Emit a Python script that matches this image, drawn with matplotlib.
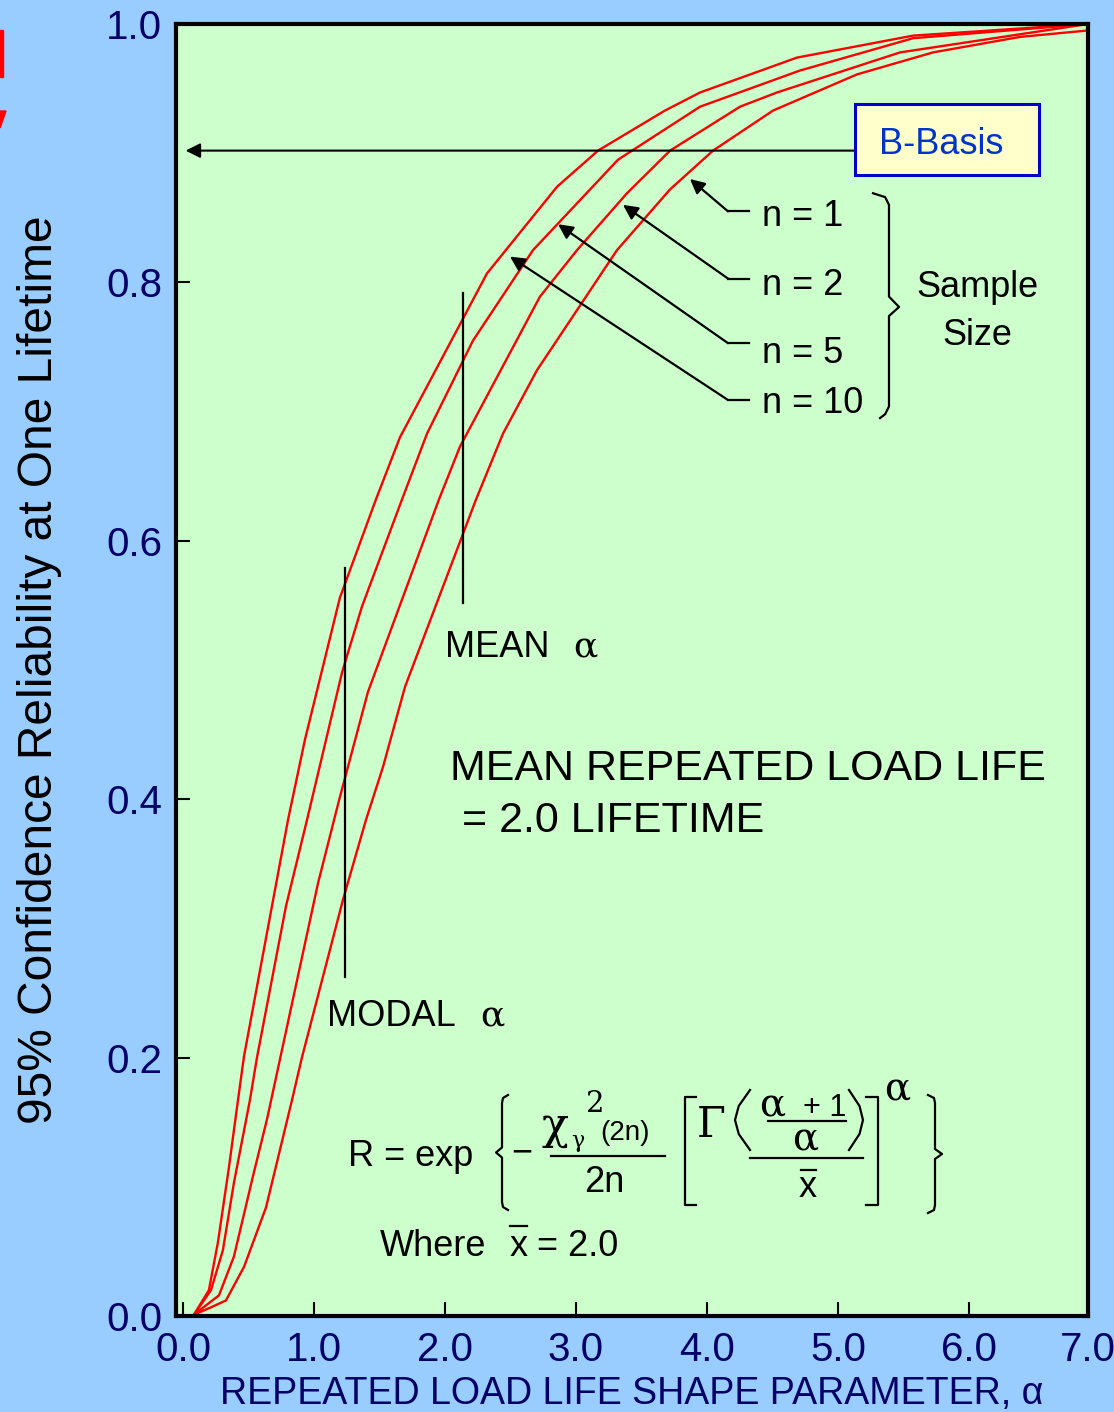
import matplotlib
matplotlib.use("Agg")
import matplotlib.pyplot as plt
from matplotlib.transforms import Affine2D
from matplotlib.patches import Rectangle, Polygon

plt.rcParams['font.family'] = ['Liberation Sans', 'DejaVu Sans']

# shape parameter alpha vs 95% confidence reliability
alpha_n10 = [0.084, 0.198, 0.267, 0.351, 0.420, 0.466, 0.802, 0.931, 1.198, 1.473,
             1.656, 2.321, 2.855, 3.168, 3.679, 3.947, 4.687, 5.573, 6.908]
rel_n10 = [0.001, 0.020, 0.057, 0.115, 0.167, 0.201, 0.384, 0.446, 0.556, 0.632,
           0.680, 0.807, 0.874, 0.902, 0.933, 0.947, 0.974, 0.991, 1.000]

alpha_n5 = [0.084, 0.214, 0.305, 0.389, 0.511, 0.565, 0.786, 0.947, 1.214, 1.366,
            1.672, 1.863, 2.214, 2.672, 3.321, 3.947, 4.710, 5.573, 6.908]
rel_n5 = [0.001, 0.020, 0.051, 0.103, 0.167, 0.200, 0.317, 0.384, 0.498, 0.549,
          0.632, 0.683, 0.755, 0.825, 0.895, 0.936, 0.964, 0.989, 1.000]

alpha_n2 = [0.084, 0.275, 0.389, 0.534, 0.641, 1.031, 1.191, 1.412, 1.954,
            2.115, 2.725, 3.008, 3.389, 3.718, 4.252, 4.534, 5.473, 6.908]
rel_n2 = [0.001, 0.016, 0.046, 0.108, 0.152, 0.335, 0.399, 0.483, 0.632,
          0.673, 0.789, 0.825, 0.869, 0.902, 0.936, 0.947, 0.978, 1.000]

alpha_n1 = [0.084, 0.198, 0.328, 0.466, 0.634, 0.832, 0.908, 1.221, 1.397, 1.527,
            1.695, 2.237, 2.443, 2.702, 3.313, 3.718, 4.046, 4.504, 5.145, 5.725,
            6.389, 6.908]
rel_n1 = [0.001, 0.006, 0.012, 0.038, 0.084, 0.167, 0.200, 0.322, 0.384, 0.425,
          0.487, 0.632, 0.683, 0.732, 0.825, 0.872, 0.902, 0.933, 0.961, 0.978,
          0.990, 0.995]

sample_labels = ['n = 1', 'n = 2', 'n = 5', 'n = 10']
x_ticks = [0, 1, 2, 3, 4, 5, 6, 6.908]
x_ticklabels = ['0.0', '1.0', '2.0', '3.0', '4.0', '5.0', '6.0', '7.0']
y_ticks = [0.0, 0.2, 0.4, 0.6, 0.8, 1.0]
y_ticklabels = ['0.0', '0.2', '0.4', '0.6', '0.8', '1.0']

W, H = 1114, 1412
navy = '#000066'
greek = ['DejaVu Serif']
fig = plt.figure(figsize=(W / 100, H / 100), dpi=100, facecolor='#99CCFF')
# pixel coords (origin top-left) for the hand-set formula
px = Affine2D().scale(1 / W, -1 / H).translate(0, 1) + fig.transFigure

ax = fig.add_axes([176 / W, 1 - 1316 / H, (1088 - 176) / W, (1316 - 24) / H])
ax.set_facecolor('#CCFFCC')

for a, r in [(alpha_n10, rel_n10), (alpha_n5, rel_n5), (alpha_n2, rel_n2), (alpha_n1, rel_n1)]:
    ax.plot(a, r, color='#FF0000', lw=1.7)

ax.set_xlim(-0.053, 6.908)
ax.set_ylim(0, 1.0)
ax.set_xticks(x_ticks)
ax.set_xticklabels(x_ticklabels)
ax.set_yticks(y_ticks)
ax.set_yticklabels(y_ticklabels)
ax.tick_params(direction='in', length=10, width=1.5, color='black',
               labelcolor=navy, labelsize=29)
ax.tick_params(axis='x', pad=11)
ax.tick_params(axis='y', pad=10)
for s in ax.spines.values():
    s.set_linewidth(3)
ax.set_xlabel('REPEATED LOAD LIFE SHAPE PARAMETER, α', fontsize=27, color=navy, labelpad=5)
ax.set_ylabel('95% Confidence Reliability at One Lifetime', fontsize=34.5, color='black', labelpad=32)

# B-Basis arrow and box
ax.annotate('', xy=(0.02, 0.902), xytext=(5.13, 0.902),
            arrowprops=dict(arrowstyle='-|>', color='black', lw=1.5, mutation_scale=22,
                            shrinkA=0, shrinkB=0))
ax.add_patch(Rectangle((5.13, 0.883), 1.404, 0.055, fc='#FFFFCC', ec='#0000CC', lw=2.2, zorder=5))
ax.text(5.79, 0.9065, 'B-Basis', color='#0033CC', fontsize=26, ha='center', va='center', zorder=6)

# sample size leaders
label_base = [0.844, 0.790, 0.738, 0.699]
leader_y = [0.855, 0.803, 0.753, 0.709]
tips = [(3.870, 0.880), (3.359, 0.860), (2.863, 0.845), (2.496, 0.820)]
for lab, yb, yh, tip in zip(sample_labels, label_base, leader_y, tips):
    ax.text(4.42, yb, lab, fontsize=26, va='baseline')
    ax.plot([4.321, 4.160], [yh, yh], color='black', lw=1.6)
    ax.annotate('', xy=tip, xytext=(4.160, yh),
                arrowprops=dict(arrowstyle='-|>', color='black', lw=1.6, mutation_scale=22,
                                shrinkA=0, shrinkB=0))

ax.plot([5.267, 5.360, 5.389, 5.389, 5.466, 5.389, 5.389, 5.360, 5.321],
        [0.869, 0.866, 0.860, 0.789, 0.781, 0.774, 0.704, 0.698, 0.695],
        color='black', lw=1.6)
ax.text(6.061, 0.789, 'Sample', fontsize=26, ha='center', va='baseline')
ax.text(6.061, 0.7515, 'Size', fontsize=26, ha='center', va='baseline')

# mean / modal markers
ax.plot([2.137, 2.137], [0.552, 0.792], color='black', lw=1.6)
ax.plot([1.237, 1.237], [0.262, 0.579], color='black', lw=1.6)
ax.text(2.0, 0.510, 'MEAN', fontsize=26, va='baseline')
ax.text(2.977, 0.510, 'α', fontsize=26, va='baseline', family=greek)
ax.text(1.099, 0.2245, 'MODAL', fontsize=26, va='baseline')
ax.text(2.267, 0.2245, 'α', fontsize=26, va='baseline', family=greek)

ax.text(2.038, 0.415, 'MEAN REPEATED LOAD LIFE', fontsize=31, va='baseline')
ax.text(2.13, 0.375, '= 2.0 LIFETIME', fontsize=31, va='baseline')

# formula, laid out piece by piece
def t(x, y, s, size=26, serif=False, **kw):
    fam = greek if serif else ['Liberation Sans', 'DejaVu Sans']
    fig.text(x, y, s, transform=px, fontsize=size, va='baseline', family=fam, **kw)

def ln(xs, ys, lw=1.6):
    fig.add_artist(plt.Line2D(xs, ys, transform=px, color='black', lw=lw))

def brace(x0, x1, y0, y1, left=True):
    ym = (y0 + y1) / 2
    xm = (x0 + x1) / 2
    if left:
        ln([x1, xm + 1, xm, xm, x0, xm, xm, xm + 1, x1],
           [y0, y0 + 3, y0 + 8, ym - 5, ym, ym + 5, y1 - 8, y1 - 3, y1])
    else:
        ln([x0, xm - 1, xm, xm, x1, xm, xm, xm - 1, x0],
           [y0, y0 + 3, y0 + 8, ym - 5, ym, ym + 5, y1 - 8, y1 - 3, y1])

def paren(x_out, x_in, y0, y1):
    ym = (y0 + y1) / 2
    ln([x_out, x_in + (x_out - x_in) * 0.25, x_in, x_in + (x_out - x_in) * 0.25, x_out],
       [y0, ym - 14, ym, ym + 14, y1])

t(348, 1166, 'R = exp')
brace(496, 508, 1095, 1210, left=True)
t(511, 1162, '−')
t(541, 1139, 'χ', size=32, serif=True)
t(571, 1147, 'γ', size=16, serif=True)
t(586, 1112, '2', size=21, serif=True)
t(600, 1140, '(2n)', size=20)
ln([551, 665], [1156, 1156])
t(604, 1192, '2n', ha='center')
ln([696, 685, 685, 696], [1097, 1097, 1205, 1205])
t(697, 1137, 'Γ', size=30, serif=True)
paren(750, 735, 1090, 1150)
t(759, 1116, 'α', size=28, serif=True)
t(803, 1116, '+ 1', size=22)
ln([768, 846], [1121, 1121])
t(805, 1150, 'α', size=28, serif=True, ha='center')
paren(849, 863, 1090, 1150)
ln([750, 863], [1158, 1158])
t(808, 1197, 'x', ha='center')
ln([801, 816], [1170, 1170])
ln([866, 878, 878, 866], [1097, 1097, 1205, 1205])
t(884, 1100, 'α', size=28, serif=True)
brace(928, 942, 1095, 1213, left=False)

t(380, 1256, 'Where')
t(510, 1256, 'x')
ln([510, 527], [1226, 1226])
t(537, 1256, '= 2.0')

# stray marks at the slide edge
fig.add_artist(Rectangle((0, 30), 3, 47, transform=px, color='#FF0000'))
fig.add_artist(Polygon([(0, 111), (6, 111), (0, 128)], closed=True, transform=px, color='#FF0000'))

fig.savefig('out.png', dpi=100, facecolor=fig.get_facecolor())
